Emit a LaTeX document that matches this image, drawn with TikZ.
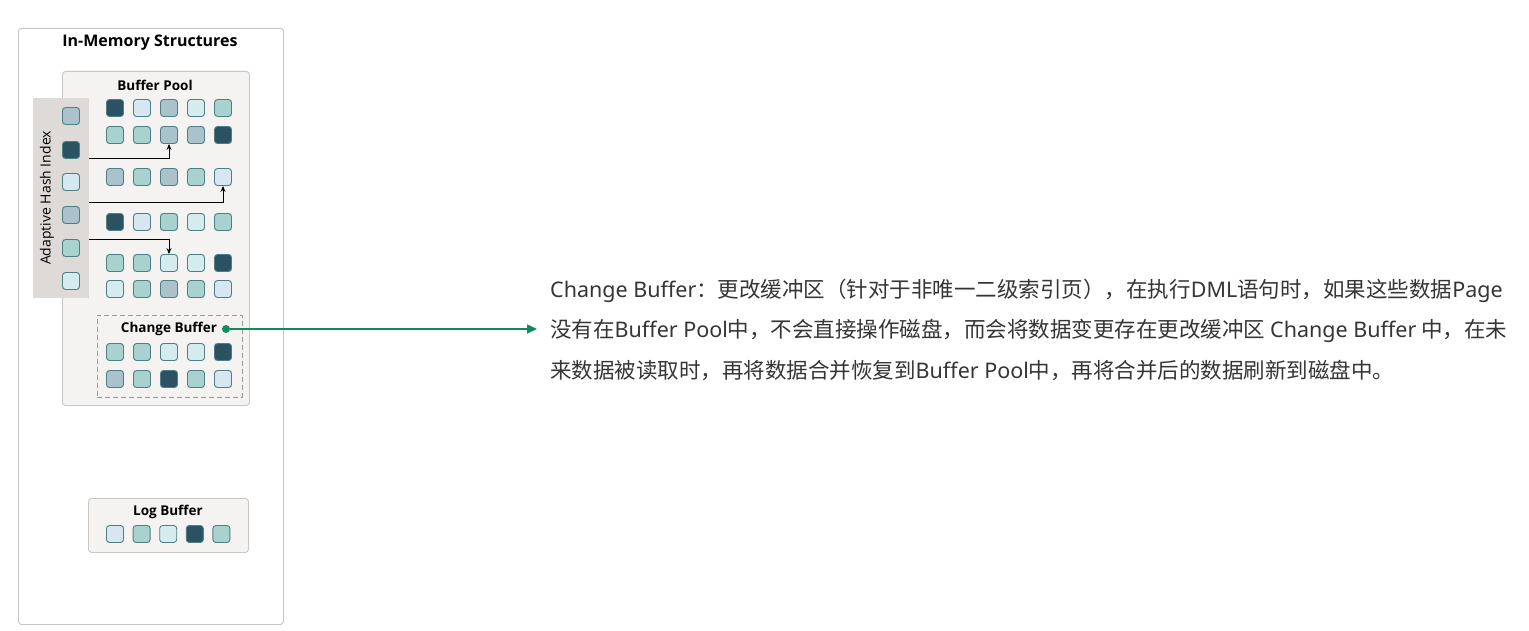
\documentclass[tikz,border=0pt]{standalone}
\usepackage{fontspec}
\setmainfont{Open Sans}
\newfontfamily\cjk{Noto Sans CJK SC}
\newfontfamily\lat{Noto Sans}
\newcommand\La[1]{{\lat #1}}
\usetikzlibrary{arrows.meta}
\definecolor{dk}{HTML}{2A5263}
\definecolor{gb}{HTML}{A9C2CB}
\definecolor{tl}{HTML}{A8D2CD}
\definecolor{lb}{HTML}{D7E7F1}
\definecolor{lt}{HTML}{D4ECEE}
\definecolor{sqb}{HTML}{4F7F84}
\definecolor{boxb}{HTML}{C9C6C3}
\definecolor{poolf}{HTML}{F5F3F2}
\definecolor{ahif}{HTML}{DDDAD7}
\definecolor{grn}{HTML}{128A5C}
\definecolor{txt}{HTML}{353535}
\tikzset{
  x=1pt,y=-1pt,
  sq/.style={draw=sqb, rounded corners=3pt, minimum size=17pt, inner sep=0pt, line width=0.9pt},
  panel/.style={draw=boxb, rounded corners=3pt, line width=0.9pt},
  lbl/.style={font=\fontsize{13.5}{15}\selectfont\bfseries, text=black, inner sep=0pt},
  para/.style={font=\cjk\fontsize{21.5}{24}\selectfont, text=txt, anchor=west, inner sep=0pt},
  harr/.style={-{Stealth[length=6pt,width=5pt]}, line width=0.9pt, black},
}
\begin{document}
\begin{tikzpicture}
\useasboundingbox[fill=white] (0,0) rectangle (1529,631);
% outer
\node[panel, fill=white, minimum width=265pt, minimum height=596pt, anchor=north west, draw=boxb] (mem) at (18,28) {};
\node[font=\fontsize{16}{18}\selectfont\bfseries, inner sep=0pt] (title) at (150,43) {In-Memory Structures};
% buffer pool
\node[panel, fill=poolf, minimum width=187pt, minimum height=334pt, anchor=north west] (pool) at (62,71) {};
\node[lbl] (pooltxt) at (155,85) {Buffer Pool};
% AHI
\node[draw=none, fill=ahif, minimum width=56pt, minimum height=200pt, anchor=north west, inner sep=0pt] (ahi) at (33,98) {};
\node[rotate=90, font=\fontsize{14}{16}\selectfont, inner sep=0pt] (ahitxt) at (47,198) {Adaptive Hash Index};
\node[sq, fill=gb] (h1) at (71,116) {};
\node[sq, fill=dk] (h2) at (71,150) {};
\node[sq, fill=lb] (h3) at (71,182) {};
\node[sq, fill=gb] (h4) at (71,215) {};
\node[sq, fill=tl] (h5) at (71,248) {};
\node[sq, fill=lt] (h6) at (71,281) {};
% buffer pool squares
\foreach \r/\y/\cols in {1/108/{dk,lb,gb,lt,tl},2/135/{tl,tl,gb,gb,dk},3/177/{gb,tl,gb,tl,lb},4/222/{dk,lb,tl,lt,tl},5/263/{tl,tl,lt,lt,dk},6/289/{lt,tl,gb,tl,lb}}{
  \foreach \c [count=\i] in \cols {
    \node[sq, fill=\c] (b\r\i) at ({115+27*(\i-1)},\y) {};
  }
}
% arrows
\coordinate (a1) at (89,158);
\coordinate (a2) at (89,202);
\coordinate (a3) at (89,239);
\draw[harr] (a1) -| (b23.south);
\draw[harr] (a2) -| (b35.south);
\draw[harr] (a3) -| (b53.north);
% change buffer
\node[draw=gray!80, dashed, dash pattern=on 5pt off 3pt, line width=0.9pt, minimum width=145pt, minimum height=82pt, anchor=north west, inner sep=0pt] (cb) at (97,315) {};
\node[lbl] (cbtxt) at (169,329) {Change Buffer};
\foreach \r/\y/\cols in {1/352/{tl,tl,lt,lt,dk},2/379/{gb,tl,dk,tl,lb}}{
  \foreach \c [count=\i] in \cols {
    \node[sq, fill=\c] (c\r\i) at ({115+27*(\i-1)},\y) {};
  }
}
\node[circle, fill=grn, minimum size=8pt, inner sep=0pt] (dot) at (226,329) {};
\coordinate (tip) at (537,329);
\draw[grn, line width=1.6pt, -{Triangle[length=10pt,width=9pt]}] (dot) -- (tip);
% log buffer
\node[panel, fill=poolf, minimum width=160pt, minimum height=54pt, anchor=north west] (log) at (88,498) {};
\node[lbl] (logtxt) at (168,512) {Log Buffer};
\foreach \c [count=\i] in {lb,tl,lt,dk,tl} {
  \node[sq, fill=\c] (l\i) at ({115+26.6*(\i-1)},534) {};
}
% paragraph
\node[para] (p1) at (550,291) {\La{Change Buffer}：更改缓冲区（针对于非唯一二级索引页），在执行\La{DML}语句时，如果这些数据\La{Page}};
\node[para] (p2) at (550,331) {没有在\La{Buffer Pool}中，不会直接操作磁盘，而会将数据变更存在更改缓冲区 \La{Change Buffer} 中，在未};
\node[para] (p3) at (550,371) {来数据被读取时，再将数据合并恢复到\La{Buffer Pool}中，再将合并后的数据刷新到磁盘中。};
\end{tikzpicture}
\end{document}
